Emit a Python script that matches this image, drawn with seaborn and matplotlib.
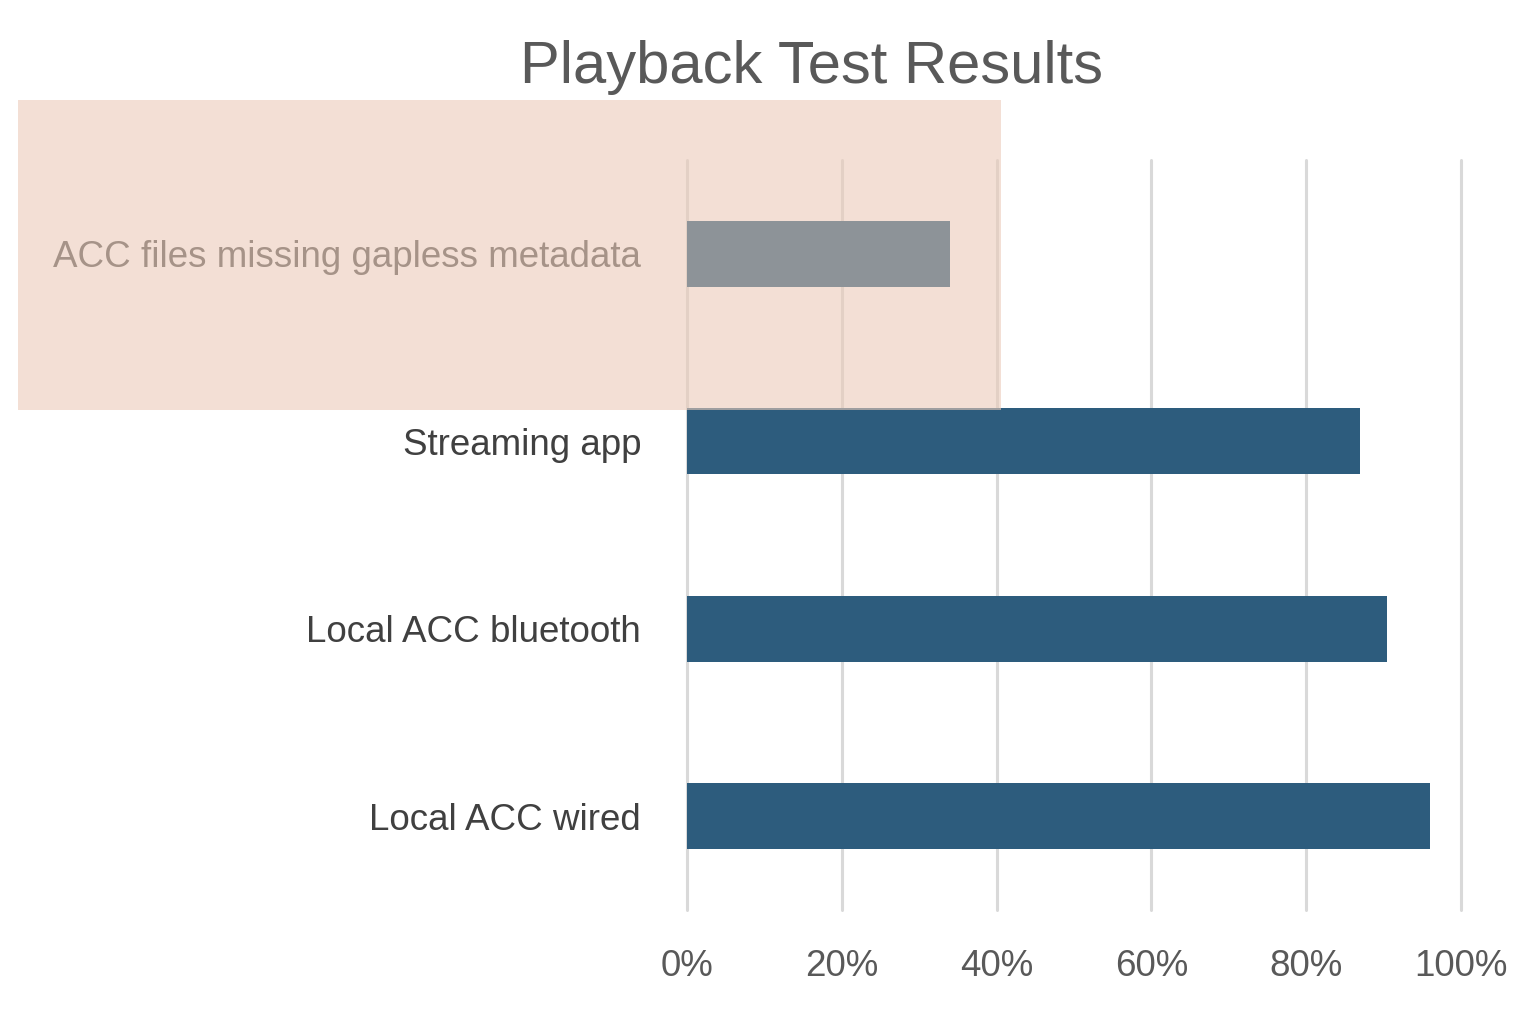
import matplotlib
matplotlib.use("Agg")
import matplotlib.pyplot as plt
from matplotlib.patches import Rectangle
from matplotlib.ticker import FuncFormatter
import seaborn as sns
import pandas as pd

# ---- data ----
categories = ["ACC files missing gapless metadata", "Streaming app",
              "Local ACC bluetooth", "Local ACC wired"]
success_pct = [34.0, 87.0, 90.5, 96.0]
bar_colors = ["#8D9398", "#2D5C7D", "#2D5C7D", "#2D5C7D"]
x_ticks = [0, 20, 40, 60, 80, 100]
title = "Playback Test Results"

sns.set_theme(style="whitegrid")
plt.rcParams["font.family"] = ["Liberation Sans", "DejaVu Sans"]

W, H = 1521, 1034
fig = plt.figure(figsize=(W / 100, H / 100), dpi=100)
fig.patch.set_facecolor("white")
ax = fig.add_axes([687 / W, 124 / H, 774 / W, 750 / H])
ax.set_facecolor("white")

df = pd.DataFrame({"category": categories, "pct": success_pct})
sns.barplot(data=df, x="pct", y="category", hue="category",
            palette=bar_colors, orient="h", width=0.35,
            legend=False, ax=ax, saturation=1, linewidth=0)

ax.set_xlim(0, 100)
ax.set_ylim(len(categories) - 0.5, -0.5)
ax.set_xticks(x_ticks)
ax.xaxis.set_major_formatter(FuncFormatter(lambda v, p: f"{v:.0f}%"))
ax.set_xlabel("")
ax.set_ylabel("")
ax.grid(axis="x", color="#D9D9D9", linewidth=2.2)
ax.grid(axis="y", visible=False)
for gl in ax.get_xgridlines():
    gl.set_clip_on(False)
for s in ax.spines.values():
    s.set_visible(False)
ax.tick_params(axis="x", length=0, pad=28, labelsize=26.5, labelcolor="#595959")
ax.tick_params(axis="y", length=0, pad=33, labelsize=26.5, labelcolor="#404040")

# highlight overlay
overlay = Rectangle((18 / W, (H - 410) / H), (1001 - 18) / W, 310 / H,
                    transform=fig.transFigure, facecolor="#EBCBB9",
                    alpha=0.6, edgecolor="none", clip_on=False, zorder=2)
ax.add_patch(overlay)
# keep the highlighted bar visible above the overlay
ax.patches[0].set_zorder(3)

fig.text(812 / W, (H - 83) / H, title, ha="center", va="baseline",
         fontsize=43, color="#595959")

fig.savefig("out.png", dpi=100)
